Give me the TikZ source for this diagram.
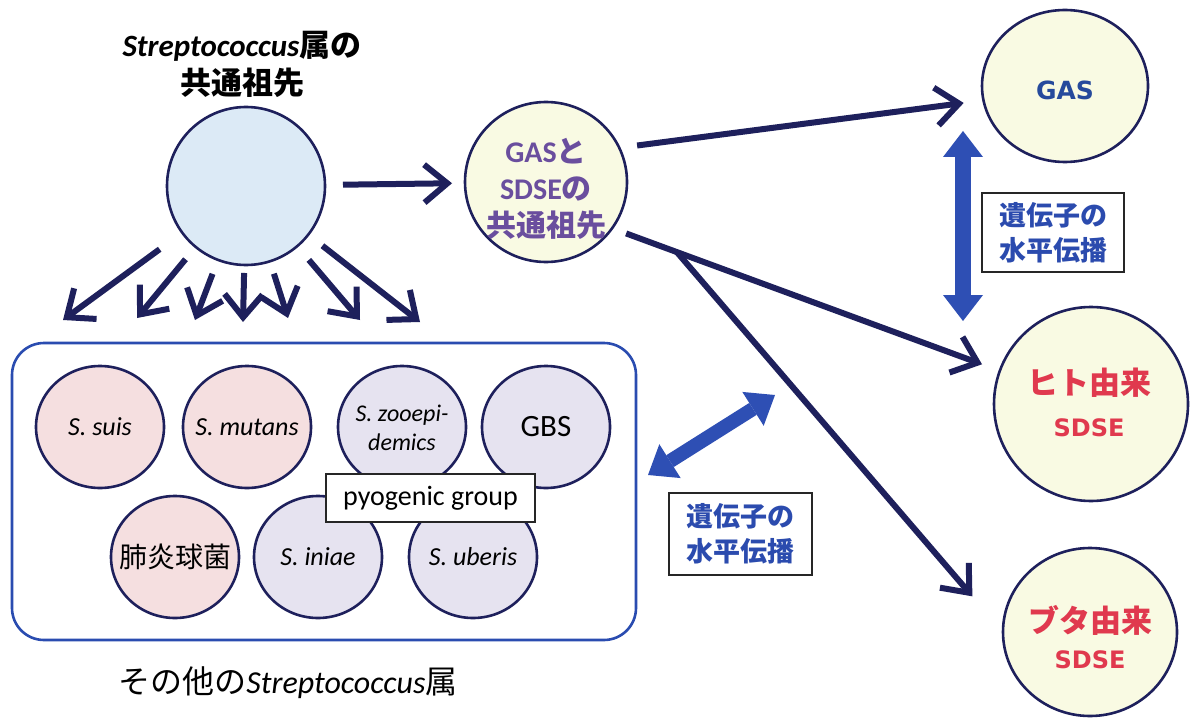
\documentclass[tikz,border=0pt]{standalone}
\usepackage{fontspec}
\setmainfont{Carlito}
\newfontfamily\jp{Noto Sans CJK JP}
\newfontfamily\wide{DejaVu Sans}
\usetikzlibrary{arrows.meta,shapes.geometric,calc}

\definecolor{navy}{HTML}{1E205C}
\definecolor{hgtblue}{HTML}{2E4FB4}
\definecolor{boxblue}{HTML}{2B4BAE}
\definecolor{grpblue}{HTML}{2A4CB0}
\definecolor{ancfill}{HTML}{DCEAF6}
\definecolor{creamfill}{HTML}{F9FAE3}
\definecolor{pinkfill}{HTML}{F5DFE0}
\definecolor{lavfill}{HTML}{E6E3F0}
\definecolor{ancpurple}{HTML}{6A4E9E}
\definecolor{sdsered}{HTML}{E0394E}
\definecolor{gasblue}{HTML}{264A9C}

\begin{document}
\begin{tikzpicture}[x=1pt,y=-1pt,
  every node/.style={inner sep=0pt, outer sep=0pt},
  rim/.style={draw=navy, line width=2.6pt},
  species/.style={ellipse, rim, minimum width=128pt, minimum height=122pt},
  pinkc/.style={species, fill=pinkfill},
  lavc/.style={species, fill=lavfill},
  sptext/.style={font=\fontsize{26}{30}\selectfont\itshape},
  descent/.style={draw=navy, line width=6pt, -{Straight Barb[length=23pt,width=38pt]}},
  hgt/.style={draw=hgtblue, line width=16pt,
    {Triangle[length=26pt,width=40pt,line width=0pt]}-{Triangle[length=26pt,width=40pt,line width=0pt]}},
  notebox/.style={draw=black!85, line width=1.2pt, fill=white, text=boxblue,
    font=\jp\bfseries\fontsize{27}{35}\selectfont, align=center},
  redtop/.style={text=sdsered, font=\jp\bfseries\fontsize{31}{31}\selectfont},
  redsub/.style={text=sdsered, font=\wide\bfseries\fontsize{24}{24}\selectfont},
]
\fill[white] (0,0) rectangle (1190,722);
\useasboundingbox (0,0) rectangle (1190,722);

% common ancestor of the genus
\node[font=\fontsize{31}{38}\selectfont\bfseries, align=center] (anctitle) at (242,64)
  {{\itshape Streptococcus}{\jp 属の}\\{\jp 共通祖先}};
\node[circle, rim, fill=ancfill, minimum size=158pt] (anc) at (246,186) {};

% ancestor of GAS and SDSE
\node[ellipse, rim, fill=creamfill, minimum width=162pt, minimum height=160pt] (mid) at (546,182) {};
\node[text=ancpurple, font=\bfseries\fontsize{30}{37}\selectfont, align=center] (midtext)
  at ($(mid)+(0,7)$) {GAS{\jp と}\\SDSE{\jp の}\\{\jp 共通祖先}};

% present-day lineages
\node[ellipse, rim, fill=creamfill, minimum width=166pt, minimum height=152pt] (gas) at (1065,86) {};
\node[text=gasblue, font=\wide\bfseries\fontsize{25}{25}\selectfont] (gastext) at ($(gas)+(0,4)$) {GAS};
\node[ellipse, rim, fill=creamfill, minimum width=194pt, minimum height=194pt] (hito) at (1091,404) {};
\node[redtop] (hitotext) at ($(hito)+(-2,-21)$) {ヒト由来};
\node[redsub] (hitosdse) at ($(hito)+(-2,24)$) {SDSE};
\node[ellipse, rim, fill=creamfill, minimum width=174pt, minimum height=168pt] (buta) at (1090,632) {};
\node[redtop] (butatext) at ($(buta)+(0,-12)$) {ブタ由来};
\node[redsub] (butasdse) at ($(buta)+(0,28)$) {SDSE};

% other streptococci
\node[draw=grpblue, line width=2.6pt, rounded corners=32pt,
  minimum width=624pt, minimum height=297pt] (grp) at (324,491.5) {};
\node[pinkc] (suis) at (100,427) {};
\node[sptext] (suistext) at (suis) {S. suis};
\node[pinkc] (mutans) at (247,427) {};
\node[sptext] (mutanstext) at (mutans) {S. mutans};
\node[lavc] (zoo) at (402,427) {};
\node[font=\fontsize{24}{29}\selectfont\itshape, align=center] (zootext) at ($(zoo)+(0,1)$) {S. zooepi-\\demics};
\node[lavc] (gbs) at (546,427) {};
\node[font=\fontsize{31}{31}\selectfont] (gbstext) at (gbs) {GBS};
\node[pinkc] (pneumo) at (175,557) {};
\node[font=\jp\fontsize{28}{28}\selectfont] (pneumotext) at (pneumo) {肺炎球菌};
\node[lavc] (iniae) at (318,557) {};
\node[sptext] (iniaetext) at (iniae) {S. iniae};
\node[lavc] (uberis) at (473,557) {};
\node[sptext] (uberistext) at (uberis) {S. uberis};
\node[draw=black!85, line width=1.2pt, fill=white, minimum width=209pt, minimum height=48pt,
  font=\fontsize{28}{28}\selectfont] (pyo) at (430.5,498) {pyogenic group};
\node[font=\fontsize{32}{38}\selectfont] (grplabel) at (288,683)
  {{\jp その他の}{\itshape Streptococcus}{\jp 属}};

% horizontal gene transfer notes
\node[notebox, minimum width=142pt, minimum height=79pt] (hgtnote1) at (1053,232.5) {遺伝子の\\水平伝播};
\node[notebox, minimum width=143pt, minimum height=82pt] (hgtnote2) at (740.5,534) {遺伝子の\\水平伝播};

% descent from the genus ancestor
\foreach \i/\x/\y/\s in {1/63/320/28, 2/137/318/16, 3/195/320/15, 4/243/322/8,
                         5/288/318/13, 6/360/320/18, 7/420/322/18} {
  \coordinate (d\i) at (\x,\y);
  \draw[descent, shorten <=\s pt] (anc) -- (d\i);
}
\draw[descent, shorten <=18pt, shorten >=13pt] (anc) -- (mid);

% descent from the GAS/SDSE ancestor
\draw[descent, shorten <=18pt, shorten >=20pt] (mid.25) -- (gas.190);
\draw[descent, shorten <=15pt, shorten >=19pt] (mid.-35) -- (hito.160);
\coordinate (fork) at ($(mid.-35)!0.167!(hito.160)$);
\draw[descent, shorten >=47pt] (fork) -- (buta.180);

% gene transfer arrows
\coordinate (h1) at (963,131);
\coordinate (h2) at (963,321);
\draw[hgt] (h1) -- (h2);
\coordinate (h3) at (648,475);
\coordinate (h4) at (775,395);
\draw[hgt, line width=14pt] (h3) -- (h4);
\end{tikzpicture}
\end{document}
